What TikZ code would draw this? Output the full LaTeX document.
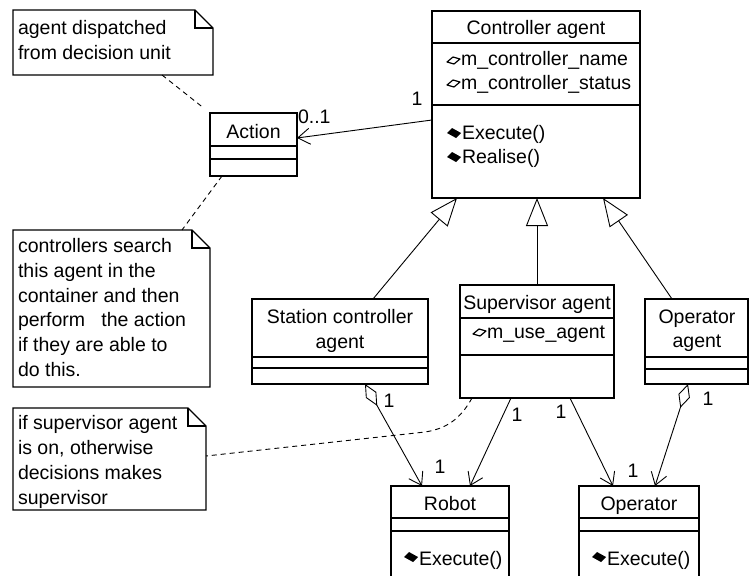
\documentclass[tikz,border=0pt]{standalone}
\usepackage{fontspec}
\setmainfont{Liberation Sans}
\usetikzlibrary{arrows.meta,calc}

\begin{document}
\begin{tikzpicture}[x=1pt,y=-1pt,
  every node/.style={inner sep=0pt, outer sep=0pt},
  classbox/.style={draw, line width=1.1pt, anchor=north west},
  notebox/.style={anchor=north west},
  txt/.style={font=\fontsize{19.5}{24.5}\selectfont, anchor=base},
  ltxt/.style={txt, anchor=base west},
  rule/.style={line width=1.1pt},
  link/.style={line width=0.9pt},
  assoc/.style={link, -{Straight Barb[length=12pt,width=16pt]}},
  aggr/.style={link, {Diamond[open,length=25pt,width=12pt]}-{Straight Barb[length=12pt,width=16pt]}},
  inherit/.style={link, -{Triangle[open,length=28pt,width=22pt]}},
  notelink/.style={link, dash pattern=on 5pt off 4pt},
  pics/openmark/.style={code={\draw[line width=1.2pt, line join=round] (0,0) -- (6,-5) -- (13,-3) -- (7,2) -- cycle;}},
  pics/fullmark/.style={code={\fill (0,0) -- (5,-5) -- (14,0) -- (9,5) -- cycle;}}
]
\useasboundingbox (0,0) rectangle (751,575);
\clip (0,0) rectangle (751,575);

% ---------- classes ----------
% Controller agent
\node[classbox, minimum width=208pt, minimum height=187pt] (ctrl) at (432,11) {};
\draw[rule] ([yshift=-32pt]ctrl.north west) -- ([yshift=-32pt]ctrl.north east);
\draw[rule] ([yshift=-94pt]ctrl.north west) -- ([yshift=-94pt]ctrl.north east);
\node[txt] (ctrlname) at (536,35) {Controller agent};
\pic at (447,62) {openmark};
\node[ltxt] (ctrla1) at (461,66) {m\_controller\_name};
\pic at (447,85) {openmark};
\node[ltxt] (ctrla2) at (461,89) {m\_controller\_status};
\pic at (447,133) {fullmark};
\node[ltxt] (ctrlm1) at (462,139) {Execute()};
\pic at (447,157) {fullmark};
\node[ltxt] (ctrlm2) at (462,163) {Realise()};

% Action
\node[classbox, minimum width=87pt, minimum height=63pt] (act) at (210,113) {};
\draw[rule] ([yshift=-33pt]act.north west) -- ([yshift=-33pt]act.north east);
\draw[rule] ([yshift=-46pt]act.north west) -- ([yshift=-46pt]act.north east);
\node[txt] (actname) at (253.5,138) {Action};

% Station controller agent
\node[classbox, minimum width=176pt, minimum height=85pt] (stn) at (252,299) {};
\draw[rule] ([yshift=-58pt]stn.north west) -- ([yshift=-58pt]stn.north east);
\draw[rule] ([yshift=-69pt]stn.north west) -- ([yshift=-69pt]stn.north east);
\node[txt] (stnname1) at (340,323) {Station controller};
\node[txt] (stnname2) at (340,348) {agent};

% Supervisor agent
\node[classbox, minimum width=154pt, minimum height=113pt] (sup) at (460,285) {};
\draw[rule] ([yshift=-33pt]sup.north west) -- ([yshift=-33pt]sup.north east);
\draw[rule] ([yshift=-70pt]sup.north west) -- ([yshift=-70pt]sup.north east);
\node[txt] (supname) at (537,309) {Supervisor agent};
\pic at (473,334) {openmark};
\node[ltxt] (supa1) at (487,338) {m\_use\_agent};

% Operator agent
\node[classbox, minimum width=103pt, minimum height=85pt] (opag) at (645,299) {};
\draw[rule] ([yshift=-58pt]opag.north west) -- ([yshift=-58pt]opag.north east);
\draw[rule] ([yshift=-70pt]opag.north west) -- ([yshift=-70pt]opag.north east);
\node[txt] (opagname1) at (697,323) {Operator};
\node[txt] (opagname2) at (697,347) {agent};

% Robot
\node[classbox, minimum width=118pt, minimum height=104pt] (rob) at (391,486) {};
\draw[rule] ([yshift=-32pt]rob.north west) -- ([yshift=-32pt]rob.north east);
\draw[rule] ([yshift=-45pt]rob.north west) -- ([yshift=-45pt]rob.north east);
\node[txt] (robname) at (450,510) {Robot};
\pic at (404,557) {fullmark};
\node[ltxt] (robm1) at (419,565) {Execute()};

% Operator
\node[classbox, minimum width=120pt, minimum height=104pt] (oper) at (579,486) {};
\draw[rule] ([yshift=-32pt]oper.north west) -- ([yshift=-32pt]oper.north east);
\draw[rule] ([yshift=-45pt]oper.north west) -- ([yshift=-45pt]oper.north east);
\node[txt] (opername) at (639,510) {Operator};
\pic at (592,557) {fullmark};
\node[ltxt] (operm1) at (607,565) {Execute()};

% ---------- notes ----------
\node[notebox, minimum width=200pt, minimum height=65pt] (n1) at (13,10) {};
\node[notebox, minimum width=197pt, minimum height=157pt] (n2) at (13,230) {};
\node[notebox, minimum width=193pt, minimum height=102pt] (n3) at (13,408) {};
\foreach \n in {n1,n2,n3}{
  \draw[rule] (\n.north west) -- ([xshift=-18pt]\n.north east) -- ([yshift=-18pt]\n.north east)
    -- (\n.south east) -- (\n.south west) -- cycle;
  \draw[rule] ([xshift=-18pt]\n.north east) -- ([xshift=-18pt,yshift=-18pt]\n.north east)
    -- ([yshift=-18pt]\n.north east);
}
\foreach \t/\y [count=\i] in {agent dispatched/35, from decision unit/60}
  \node[ltxt] (n1l\i) at (18,\y) {\t};
\foreach \t/\y [count=\i] in {controllers search/252, this agent in the/277,
    container and then/302, perform~~ the action/326, if they are able to/351, do this./376}
  \node[ltxt] (n2l\i) at (18,\y) {\t};
\foreach \t/\y [count=\i] in {if supervisor agent/429, {is on, otherwise}/454,
    decisions makes/479, supervisor/504}
  \node[ltxt] (n3l\i) at (18,\y) {\t};

% ---------- connectors ----------
\draw[assoc] ([yshift=-109pt]ctrl.north west) -- ([yshift=-25pt]act.north east);
\node[txt] (m1) at (417,106) {1};
\node[ltxt] (m2) at (298,123) {0..1};

\draw[inherit] ([xshift=121pt]stn.north west) -- ([xshift=25pt]ctrl.south west);
\draw[inherit] ([xshift=77pt]sup.north west) -- ([xshift=105pt]ctrl.south west);
\draw[inherit] ([xshift=27pt]opag.north west) -- ([xshift=171pt]ctrl.south west);

\draw[aggr] ([xshift=113pt]stn.south west) -- ([xshift=31pt]rob.north west);
\node[txt] (m3) at (389,407) {1};
\node[txt] (m4) at (440,473) {1};

\draw[assoc] ([xshift=51pt]sup.south west) -- ([xshift=79pt]rob.north west);
\node[txt] (m5) at (517,421) {1};

\draw[assoc] ([xshift=110pt]sup.south west) -- ([xshift=34pt]oper.north west);
\node[txt] (m6) at (561,418) {1};

\draw[aggr] ([xshift=43pt]opag.south west) -- ([xshift=76pt]oper.north west);
\node[txt] (m7) at (708,405) {1};
\node[txt] (m8) at (633,477) {1};

% note anchors
\draw[notelink, shorten >=9pt] ([xshift=149pt]n1.south west) -- (act.north west);
\draw[notelink] ([xshift=12pt]act.south west) -- ([xshift=169pt]n2.north west);
\coordinate (bend) at (425,432);
\draw[notelink] ([xshift=12pt]sup.south west) .. controls +(-12,22) and +(20,-3) .. (bend)
  -- ([yshift=-48pt]n3.north east);
\end{tikzpicture}
\end{document}
